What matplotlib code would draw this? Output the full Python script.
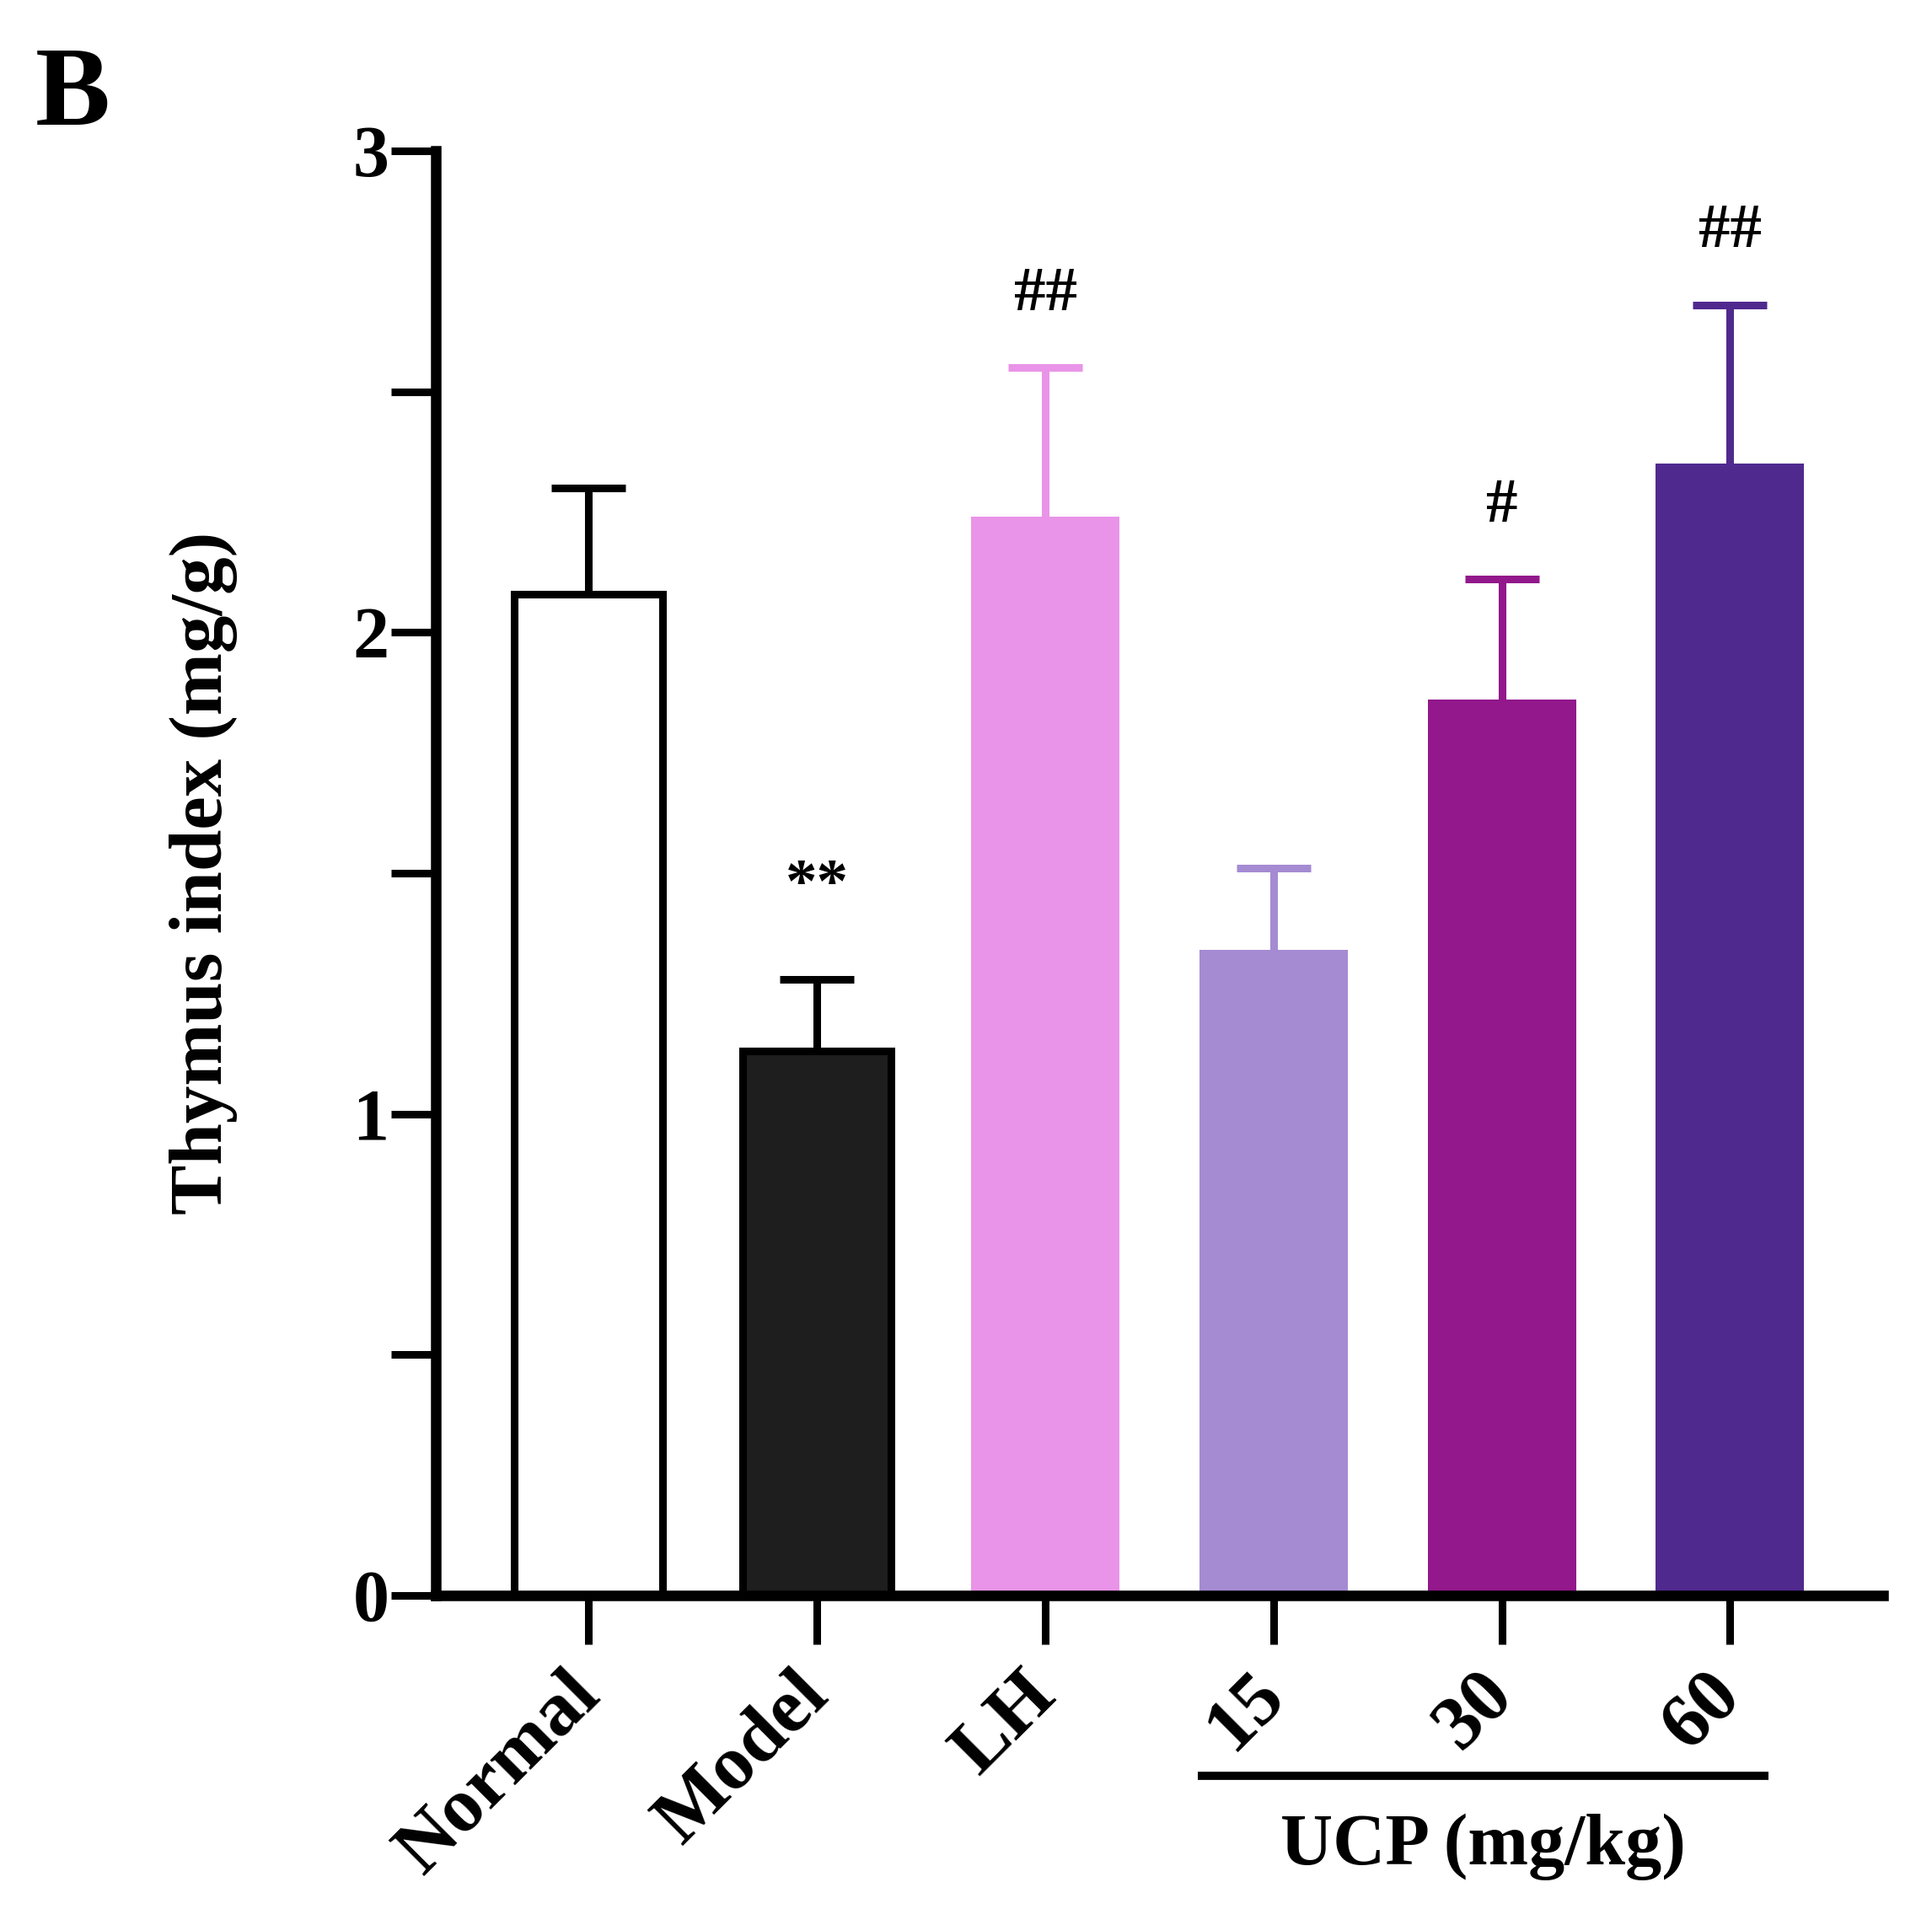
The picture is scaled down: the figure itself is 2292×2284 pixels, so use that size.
import matplotlib.pyplot as plt
import numpy as np

plt.rcParams['font.family'] = 'Liberation Serif'
plt.rcParams['font.weight'] = 'bold'

# Data
groups = ['Normal', 'Model', 'LH', '15', '30', '60']
means = [2.08, 1.13, 2.24, 1.34, 1.86, 2.35]
sems = [0.22, 0.15, 0.31, 0.17, 0.25, 0.33]
signif = ['', '**', '##', '', '#', '##']
fill_colors = ['#ffffff', '#1e1e1e', '#e994e8', '#a58bd2', '#92188c', '#50298e']
edge_colors = ['#000000', '#000000', '#e994e8', '#a58bd2', '#92188c', '#50298e']
err_colors = ['#000000', '#000000', '#e994e8', '#a58bd2', '#92188c', '#50298e']

fig = plt.figure(figsize=(22.92, 22.84), dpi=100)
ax = fig.add_axes([0.2256, 0.1713, 0.749, 0.7503])

x = np.arange(len(groups))
lw_edge = [6.5, 6.5, 0, 0, 0, 0]
ax.bar(x, means, width=0.65, color=fill_colors, edgecolor=edge_colors,
       linewidth=lw_edge, zorder=2)

for i in range(len(groups)):
    # lower arm runs down to 0 and hides behind the bar / axis
    ax.errorbar(x[i], means[i], yerr=[[means[i]], [sems[i]]], fmt='none',
                ecolor=err_colors[i], elinewidth=6.5, capsize=32, capthick=6.5,
                zorder=1)
    if signif[i]:
        gap = 0.16 if '*' in signif[i] else 0.12
        ax.text(x[i], means[i] + sems[i] + gap, signif[i], ha='center',
                va='baseline', fontsize=54, fontweight='bold')

ax.set_xlim(-0.67, 5.67)
ax.set_ylim(0, 3)
ax.set_yticks([0, 1, 2, 3])
ax.set_yticks([0.5, 1.5, 2.5], minor=True)
ax.set_xticks(x)
ax.set_xticklabels(groups, rotation=45, ha='right', va='center',
                   rotation_mode='anchor', fontsize=66, fontweight='bold')
ax.tick_params(axis='y', which='both', length=38, width=6.5, labelsize=62, pad=2)
ax.tick_params(axis='x', length=42, width=6.5, pad=34)

for side in ['top', 'right']:
    ax.spines[side].set_visible(False)
for side in ['left', 'bottom']:
    ax.spines[side].set_linewidth(9)
    ax.spines[side].set_zorder(3)

ax.set_ylabel('Thymus index (mg/g)', fontsize=64, fontweight='bold', labelpad=98)

# UCP group bracket
ax.plot([2.67, 5.17], [-0.375, -0.375], color='black', lw=7,
        clip_on=False, solid_capstyle='butt')
ax.text(3.92, -0.523, 'UCP (mg/kg)', ha='center', va='center',
        fontsize=62, fontweight='bold', clip_on=False)

fig.text(0.018, 0.976, 'B', fontsize=96, fontweight='bold', va='top', ha='left')

plt.savefig('out.png', dpi=100)
